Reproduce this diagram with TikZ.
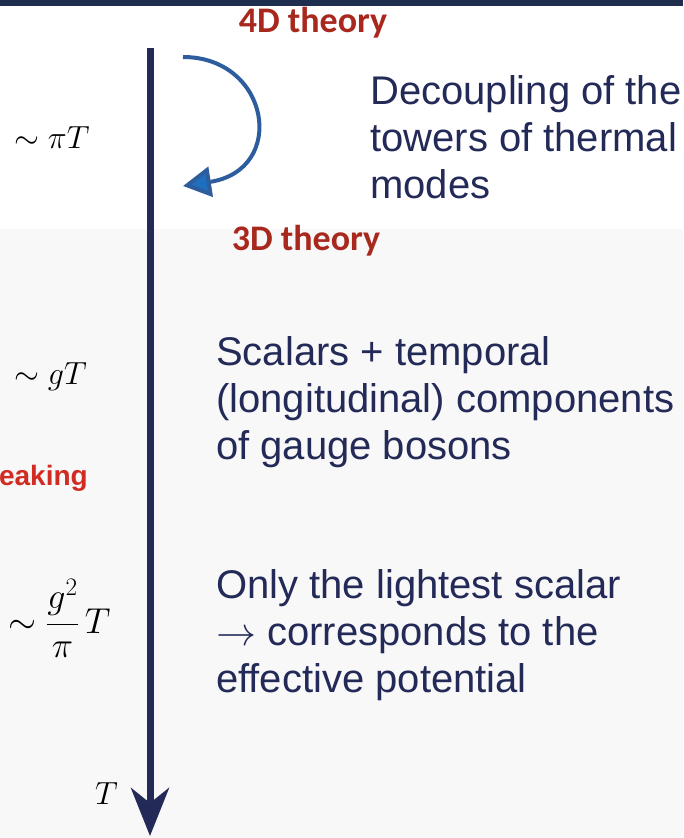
\RequirePackage{fix-cm}
\documentclass[tikz,border=0pt]{standalone}
\usepackage{amsmath}
\usepackage{fontspec}
\setmainfont{Liberation Sans}
\newfontfamily\theoryfont{Carlito}
\usepackage{xcolor}
\usetikzlibrary{arrows.meta}

\definecolor{navy}{RGB}{35,42,87}
\definecolor{barnavy}{RGB}{31,45,79}
\definecolor{theoryred}{RGB}{168,40,30}
\definecolor{breakred}{RGB}{210,43,34}
\definecolor{flowblue}{RGB}{46,93,158}
\definecolor{tipblue}{RGB}{31,111,192}
\definecolor{lowband}{RGB}{248,248,248}

\begin{document}
\begin{tikzpicture}[
    x=1pt, y=-1pt,
    desc/.style={anchor=base west, inner sep=0pt, align=left, text=navy,
                 font=\fontsize{40}{47}\selectfont},
    theory/.style={inner sep=0pt, text=theoryred,
                   font=\theoryfont\bfseries\fontsize{36}{40}\selectfont},
    scalelab/.style={anchor=base west, inner sep=0pt, font=\fontsize{32}{36}\selectfont},
    axis/.style={-{Stealth[length=48pt, width=38pt, inset=15pt]}, line width=7pt, navy},
    flow/.style={-{Triangle[length=28pt, width=30pt, fill=tipblue]}, line width=4pt, flowblue}
]

%% --- Background ---
\useasboundingbox (0,0) rectangle (683,838);
\fill[lowband] (0,229) rectangle (683,838);
\fill[barnavy] (0,0) rectangle (683,6);

%% --- Energy axis ---
\coordinate (axtop) at (150,48);
\coordinate (axbot) at (150,836);
\draw[axis] (axtop) -- (axbot);

%% --- Theory labels ---
\node[theory] (fourD)  at (313,23)  {4D theory};
\node[theory] (threeD) at (306,241) {3D theory};

%% --- Reduction arrow ---
\coordinate (flowin)  at (183,57);
\coordinate (flowout) at (183,186);
\draw[flow] (flowin) .. controls (270,57) and (288,170) .. (flowout);

%% --- Scales ---
\node[scalelab] (piT) at (14,148) {$\sim \pi T$};
\node[scalelab] (gT)  at (14,384) {$\sim gT$};
\node[scalelab, font=\fontsize{36}{40}\selectfont] (g2T) at (8,633) {$\sim \dfrac{g^2}{\pi}\, T$};
\node[scalelab] (Tlab) at (95,804) {$T$};

\node[anchor=base east, inner sep=0pt, text=breakred,
      font=\bfseries\fontsize{28}{32}\selectfont] (breaking) at (88,485) {eaking};

%% --- Descriptions ---
\node[desc] (decouple) at (370,198) {Decoupling of the\\towers of thermal\\modes};
\node[desc] (scalars)  at (216,459) {Scalars + temporal\\(longitudinal) components\\of gauge bosons};
\node[desc] (lightest) at (216,692) {Only the lightest scalar\\$\rightarrow$ corresponds to the\\effective potential};

\end{tikzpicture}
\end{document}
